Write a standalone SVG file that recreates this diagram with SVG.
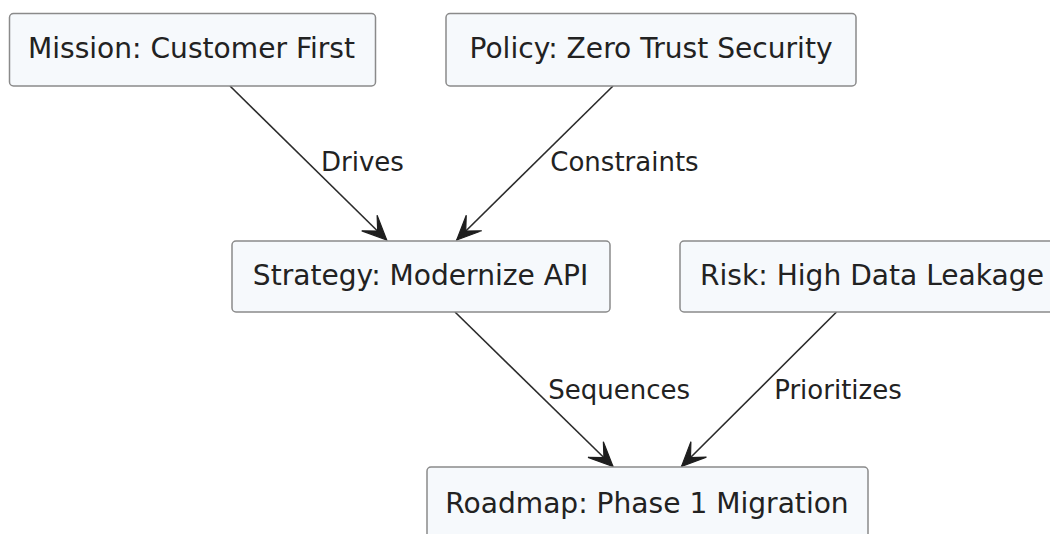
<svg xmlns="http://www.w3.org/2000/svg" width="1050" height="534" viewBox="0 0 1050 534">
  <style>
    .box { fill: #F6F9FC; stroke: #8A8A8A; stroke-width: 1.5; }
    .node-text { font-family: "DejaVu Sans", sans-serif; font-size: 28.1px; fill: #222222; text-anchor: middle; }
    .edge { stroke: #2B2B2B; stroke-width: 1.6; fill: none; marker-end: url(#arrow); }
    .edge-label { font-family: "DejaVu Sans", sans-serif; font-size: 26px; fill: #222222; }
  </style>
  <defs>
    <marker id="arrow" markerUnits="userSpaceOnUse" markerWidth="30" markerHeight="30" refX="0" refY="0" viewBox="-24 -12 26 24" orient="auto">
      <path d="M0,0 L-21,-9.5 L-11,0 L-21,9.5 Z" fill="#1E1E1E" stroke="#1E1E1E" stroke-width="1" stroke-linejoin="miter"/>
    </marker>
  </defs>
  <rect width="1050" height="534" fill="#FFFFFF"/>

  <g id="connectors">
    <path class="edge" d="M230,86 L386.7,240"/>
    <path class="edge" d="M613,86 L456.7,240"/>
    <path class="edge" d="M455,312 L613,466.5"/>
    <path class="edge" d="M836.5,312 L681.5,466.5"/>
    <text class="edge-label" x="321" y="170.7">Drives</text>
    <text class="edge-label" x="550.3" y="171">Constraints</text>
    <text class="edge-label" x="548.3" y="399.3">Sequences</text>
    <text class="edge-label" x="774.2" y="399">Prioritizes</text>
  </g>

  <g id="mission">
    <rect class="box" x="9.5" y="13.5" width="366" height="72.5" rx="4"/>
    <text class="node-text" x="191.5" y="58.3">Mission: Customer First</text>
  </g>
  <g id="policy">
    <rect class="box" x="446" y="13.5" width="410" height="72.5" rx="4"/>
    <text class="node-text" x="651" y="58.3">Policy: Zero Trust Security</text>
  </g>
  <g id="strategy">
    <rect class="box" x="232" y="241" width="378" height="71" rx="4"/>
    <text class="node-text" x="420.5" y="285.3">Strategy: Modernize API</text>
  </g>
  <g id="risk">
    <rect class="box" x="680" y="241" width="382" height="71" rx="4"/>
    <text class="node-text" x="872" y="285.3">Risk: High Data Leakage</text>
  </g>
  <g id="roadmap">
    <rect class="box" x="427" y="467" width="441" height="80" rx="4"/>
    <text class="node-text" x="647" y="513">Roadmap: Phase 1 Migration</text>
  </g>
</svg>
